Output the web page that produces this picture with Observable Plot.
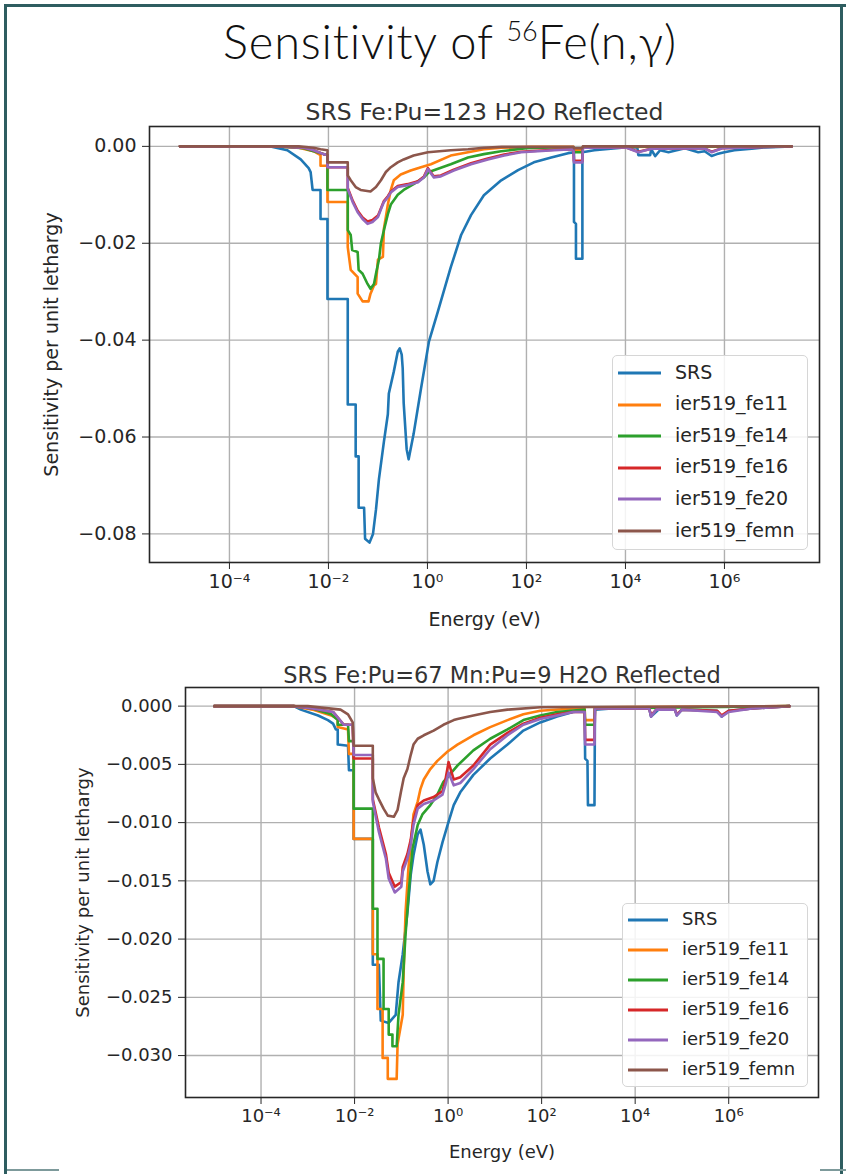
<!DOCTYPE html>
<html>
<head>
<meta charset="utf-8">
<script src="https://cdn.jsdelivr.net/npm/d3@7"></script>
<script src="https://cdn.jsdelivr.net/npm/@observablehq/plot@0.6"></script>
<style>
  html, body { margin: 0; padding: 0; background: #fff; }
  #page { position: relative; width: 846px; height: 1174px; overflow: hidden; background: #fff; }
  .bar { position: absolute; background: #2e5d60; }
  #title { position: absolute; left: 0; width: 900px; top: 13px; text-align: center; letter-spacing: 0.8px;
           font-family: "Lato", "Open Sans", sans-serif; font-weight: 300; font-size: 47px; color: #111; }
  #title sup { font-size: 27px; vertical-align: 18px; line-height: 0; letter-spacing: 0; }
  .plot { position: absolute; left: 0; }
  .legend { position: absolute; background: rgba(255,255,255,0.85); border: 1px solid #d6d6d6; border-radius: 5px;
            font-family: "DejaVu Sans", sans-serif; color: #262626; box-sizing: border-box; }
  .legend svg { position: absolute; }
  .legend span { position: absolute; line-height: 1; white-space: nowrap; }
</style>
</head>
<body>
<div id="page">
  <div class="bar" style="left:4px;top:4px;width:842px;height:3px"></div>
  <div class="bar" style="left:4px;top:4px;width:3px;height:1170px"></div>
  <div class="bar" style="left:840px;top:4px;width:3px;height:1170px"></div>
  <div class="bar" style="left:7px;top:1169px;width:52px;height:2px;background:#7d9a9b"></div>
  <div class="bar" style="left:820px;top:1169px;width:26px;height:2px;background:#7d9a9b"></div>
  <div id="title">Sensitivity of <sup>56</sup>Fe(n,γ)</div>
</div>
<script>
// ---------- data: log10(energy / eV) and sensitivity per unit lethargy ----------
const seriesNames = ["SRS", "ier519_fe11", "ier519_fe14", "ier519_fe16", "ier519_fe20", "ier519_femn"];
const seriesColors = ["#1f77b4", "#ff7f0e", "#2ca02c", "#d62728", "#9467bd", "#8c564b"];
const xTicks = [1e-4, 1e-2, 1, 1e2, 1e4, 1e6];
const xTickLabels = ["10⁻⁴", "10⁻²", "10⁰", "10²", "10⁴", "10⁶"];
const y1Ticks = [0, -0.02, -0.04, -0.06, -0.08];
const y2Ticks = [0, -0.005, -0.010, -0.015, -0.020, -0.025, -0.030];

// Chart 1: SRS Fe:Pu=123 H2O Reflected
const c1_SRS_lgE = [-5, -3.17, -2.83, -2.56, -2.40, -2.36, -2.32, -2.16, -2.16, -2.02, -2.02, -1.61, -1.61, -1.45, -1.45, -1.39, -1.39, -1.28, -1.26, -1.17, -1.10, -1.04, -0.98, -0.88, -0.80, -0.78, -0.68, -0.60, -0.56, -0.52, -0.50, -0.48, -0.42, -0.38, -0.28, -0.13, 0.03, 0.21, 0.47, 0.68, 0.88, 1.14, 1.49, 1.83, 2.15, 2.50, 2.84, 2.96, 2.96, 3.00, 3.00, 3.13, 3.13, 3.37, 3.98, 4.24, 4.26, 4.50, 4.52, 4.60, 4.70, 4.87, 5.20, 5.47, 5.60, 5.74, 5.85, 6.00, 6.20, 6.55, 6.81, 7.36];
const c1_SRS_val = [0, 0, -0.0008, -0.0027, -0.0045, -0.0053, -0.0090, -0.0090, -0.0150, -0.0150, -0.0315, -0.0315, -0.0533, -0.0533, -0.0640, -0.0640, -0.0746, -0.0746, -0.0810, -0.0818, -0.0800, -0.0750, -0.0687, -0.0610, -0.0553, -0.0510, -0.0465, -0.0424, -0.0417, -0.0430, -0.0458, -0.0530, -0.0625, -0.0646, -0.0594, -0.0500, -0.0403, -0.0341, -0.0250, -0.0183, -0.0142, -0.0101, -0.0070, -0.0049, -0.0033, -0.0023, -0.0014, -0.0012, -0.0156, -0.0160, -0.0232, -0.0232, -0.0012, -0.0008, -0.0002, -0.0002, -0.0018, -0.0018, -0.0006, -0.0020, -0.0008, -0.0012, -0.0004, -0.0012, -0.0010, -0.0020, -0.0016, -0.0012, -0.0008, -0.0005, -0.0002, 0];

const c1_fe11_lgE = [-5, -3.0, -2.6, -2.3, -2.16, -2.16, -2.02, -2.02, -1.61, -1.61, -1.55, -1.41, -1.41, -1.31, -1.19, -1.15, -1.08, -1.04, -1.00, -0.90, -0.88, -0.84, -0.80, -0.74, -0.68, -0.54, -0.34, -0.13, 0.07, 0.47, 0.82, 1.14, 1.49, 2.10, 2.95, 2.96, 3.13, 3.14, 7.36];
const c1_fe11_val = [0, 0, -0.0003, -0.0010, -0.0018, -0.0040, -0.0040, -0.0115, -0.0115, -0.0208, -0.0255, -0.0270, -0.0304, -0.0320, -0.0320, -0.0304, -0.0287, -0.0284, -0.0234, -0.0228, -0.0170, -0.0146, -0.0120, -0.0090, -0.0070, -0.0058, -0.0050, -0.0043, -0.0037, -0.0019, -0.0012, -0.0006, -0.0003, -0.0001, -0.0001, -0.0008, -0.0008, -0.0001, 0];

const c1_fe14_lgE = [-5, -3.0, -2.5, -2.3, -2.1, -2.02, -2.02, -1.61, -1.61, -1.55, -1.52, -1.41, -1.39, -1.31, -1.21, -1.15, -1.08, -1.04, -0.98, -0.94, -0.88, -0.80, -0.74, -0.60, -0.48, -0.28, -0.07, 0.03, 0.47, 0.82, 1.14, 1.49, 2.00, 2.50, 2.95, 2.96, 3.13, 3.14, 3.50, 7.36];
const c1_fe14_val = [0, 0, -0.0004, -0.0010, -0.0016, -0.0018, -0.0090, -0.0090, -0.0173, -0.0183, -0.0214, -0.0218, -0.0255, -0.0263, -0.0284, -0.0294, -0.0284, -0.0263, -0.0234, -0.0200, -0.0173, -0.0140, -0.0120, -0.0100, -0.0090, -0.0078, -0.0064, -0.0053, -0.0037, -0.0023, -0.0016, -0.0010, -0.0004, -0.0002, -0.0002, -0.0012, -0.0012, -0.0002, 0, 0];

const c1_fe16_lgE = [-5, -3.0, -2.5, -2.3, -2.1, -2.02, -2.02, -1.61, -1.61, -1.51, -1.41, -1.31, -1.21, -1.11, -1.00, -0.94, -0.88, -0.80, -0.74, -0.60, -0.40, -0.19, -0.07, 0.01, 0.13, 0.27, 0.53, 0.88, 1.22, 1.55, 1.89, 2.56, 2.95, 2.96, 3.13, 3.14, 4.00, 4.26, 4.52, 5.60, 5.74, 5.95, 6.50, 7.36];
const c1_fe16_val = [0, 0, -0.0003, -0.0008, -0.0016, -0.0018, -0.0043, -0.0043, -0.0086, -0.0112, -0.0133, -0.0147, -0.0155, -0.0152, -0.0143, -0.0128, -0.0113, -0.0103, -0.0093, -0.0082, -0.0078, -0.0072, -0.0062, -0.0045, -0.0062, -0.0060, -0.0048, -0.0035, -0.0025, -0.0017, -0.0011, -0.0007, -0.0006, -0.0030, -0.0030, -0.0003, -0.0002, -0.0011, -0.0005, -0.0004, -0.0011, -0.0004, -0.0002, 0];

const c1_fe20_lgE = [-5, -3.0, -2.5, -2.3, -2.1, -2.02, -2.02, -1.61, -1.61, -1.51, -1.41, -1.31, -1.21, -1.11, -1.00, -0.94, -0.88, -0.80, -0.74, -0.60, -0.40, -0.19, -0.07, 0.01, 0.13, 0.27, 0.53, 0.88, 1.22, 1.55, 1.89, 2.56, 2.95, 2.96, 3.13, 3.14, 4.00, 4.26, 4.52, 5.60, 5.74, 5.95, 6.50, 7.36];
const c1_fe20_val = [0, 0, -0.0003, -0.0008, -0.0016, -0.0018, -0.0043, -0.0043, -0.0088, -0.0115, -0.0136, -0.0150, -0.0160, -0.0156, -0.0146, -0.0130, -0.0115, -0.0105, -0.0095, -0.0084, -0.0080, -0.0074, -0.0064, -0.0047, -0.0064, -0.0062, -0.0050, -0.0037, -0.0027, -0.0019, -0.0012, -0.0008, -0.0006, -0.0033, -0.0033, -0.0003, -0.0002, -0.0012, -0.0005, -0.0004, -0.0012, -0.0004, -0.0002, 0];

const c1_femn_lgE = [-5, -2.6, -2.3, -2.16, -2.02, -2.02, -1.61, -1.61, -1.55, -1.45, -1.35, -1.15, -1.04, -0.94, -0.84, -0.74, -0.60, -0.48, -0.28, 0.01, 0.47, 0.82, 1.14, 1.50, 2.95, 2.96, 3.13, 3.14, 7.36];
const c1_femn_val = [0, 0, -0.0003, -0.0006, -0.0008, -0.0033, -0.0033, -0.0060, -0.0070, -0.0084, -0.0090, -0.0093, -0.0084, -0.0070, -0.0053, -0.0043, -0.0033, -0.0027, -0.0019, -0.0012, -0.0008, -0.0006, -0.0003, -0.0001, -0.0001, -0.0004, -0.0004, 0, 0];

// Chart 2: SRS Fe:Pu=67 Mn:Pu=9 H2O Reflected
const c2_SRS_lgE = [-5, -3.3, -3.15, -2.78, -2.57, -2.46, -2.40, -2.36, -2.36, -2.14, -2.12, -2.02, -2.02, -1.61, -1.61, -1.48, -1.44, -1.27, -1.12, -1.06, -0.97, -0.87, -0.80, -0.74, -0.65, -0.59, -0.52, -0.44, -0.38, -0.31, -0.23, -0.12, -0.01, 0.12, 0.26, 0.54, 0.90, 1.27, 1.61, 1.97, 2.33, 2.67, 2.92, 2.93, 2.98, 2.99, 3.13, 3.14, 3.50, 4.30, 4.34, 4.50, 4.85, 4.89, 5.00, 5.75, 5.85, 6.00, 6.50, 7.30];
const c2_SRS_val = [0, 0, -0.0003, -0.0008, -0.0012, -0.0015, -0.0020, -0.0020, -0.0033, -0.0034, -0.0055, -0.0055, -0.0114, -0.0114, -0.0222, -0.0222, -0.0270, -0.0272, -0.0265, -0.0237, -0.0213, -0.0177, -0.0145, -0.0128, -0.0110, -0.0106, -0.0119, -0.0142, -0.0153, -0.0150, -0.0134, -0.0117, -0.0102, -0.0085, -0.0074, -0.0059, -0.0045, -0.0033, -0.0021, -0.0014, -0.0009, -0.0005, -0.0004, -0.0045, -0.0047, -0.0085, -0.0085, -0.0003, -0.0002, -0.0002, -0.0009, -0.0003, -0.0003, -0.0008, -0.0003, -0.0004, -0.0009, -0.0004, -0.0002, 0];

const c2_fe11_lgE = [-5, -3.3, -2.9, -2.50, -2.36, -2.36, -2.14, -2.12, -2.02, -2.02, -1.61, -1.61, -1.51, -1.51, -1.40, -1.40, -1.29, -1.29, -1.10, -1.08, -0.97, -0.95, -0.91, -0.85, -0.74, -0.65, -0.59, -0.52, -0.38, -0.23, -0.01, 0.20, 0.54, 0.90, 1.27, 1.61, 1.97, 2.67, 2.92, 2.93, 3.13, 3.14, 7.30];
const c2_fe11_val = [0, 0, -0.0003, -0.0008, -0.0011, -0.0018, -0.0020, -0.0041, -0.0041, -0.0114, -0.0114, -0.0213, -0.0213, -0.0260, -0.0260, -0.0302, -0.0302, -0.0320, -0.0320, -0.0290, -0.0265, -0.0228, -0.0177, -0.0140, -0.0093, -0.0082, -0.0071, -0.0063, -0.0054, -0.0047, -0.0039, -0.0033, -0.0025, -0.0018, -0.0012, -0.0007, -0.0004, -0.0002, -0.0002, -0.0012, -0.0012, -0.0001, 0];

const c2_fe14_lgE = [-5, -3.3, -2.9, -2.50, -2.36, -2.36, -2.14, -2.12, -2.02, -2.02, -1.61, -1.61, -1.51, -1.51, -1.38, -1.38, -1.27, -1.27, -1.19, -1.19, -1.10, -1.06, -0.97, -0.91, -0.84, -0.76, -0.65, -0.55, -0.38, -0.23, -0.10, 0.20, 0.54, 0.90, 1.27, 1.61, 1.97, 2.33, 2.92, 2.93, 3.13, 3.14, 7.30];
const c2_fe14_val = [0, 0, -0.0002, -0.0007, -0.0012, -0.0016, -0.0016, -0.0030, -0.0030, -0.0088, -0.0088, -0.0174, -0.0174, -0.0217, -0.0217, -0.0260, -0.0260, -0.0282, -0.0282, -0.0292, -0.0292, -0.0265, -0.0237, -0.0196, -0.0159, -0.0122, -0.0102, -0.0093, -0.0085, -0.0076, -0.0065, -0.0051, -0.0038, -0.0028, -0.0020, -0.0012, -0.0008, -0.0005, -0.0003, -0.0016, -0.0016, -0.0002, 0];

const c2_fe16_lgE = [-5, -3.3, -2.9, -2.46, -2.23, -2.04, -2.02, -1.61, -1.61, -1.48, -1.33, -1.27, -1.14, -1.00, -0.97, -0.87, -0.80, -0.74, -0.65, -0.52, -0.31, -0.12, -0.06, 0.01, 0.12, 0.26, 0.54, 0.90, 1.27, 1.61, 1.97, 2.33, 2.67, 2.92, 2.93, 3.13, 3.14, 4.30, 4.34, 4.45, 4.85, 4.89, 5.00, 5.75, 5.85, 6.00, 6.50, 7.30];
const c2_fe16_val = [0, 0, -0.0002, -0.0005, -0.0016, -0.0016, -0.0045, -0.0045, -0.0080, -0.0104, -0.0127, -0.0143, -0.0155, -0.0151, -0.0138, -0.0127, -0.0115, -0.0098, -0.0085, -0.0081, -0.0078, -0.0073, -0.0064, -0.0048, -0.0063, -0.0061, -0.0051, -0.0033, -0.0023, -0.0015, -0.0010, -0.0007, -0.0005, -0.0005, -0.0029, -0.0029, -0.0002, -0.0002, -0.0008, -0.0003, -0.0003, -0.0007, -0.0003, -0.0004, -0.0008, -0.0004, -0.0002, 0];

const c2_fe20_lgE = [-5, -3.3, -2.9, -2.46, -2.23, -2.04, -2.02, -1.61, -1.61, -1.48, -1.33, -1.27, -1.14, -1.00, -0.97, -0.87, -0.80, -0.74, -0.65, -0.52, -0.31, -0.12, -0.06, 0.01, 0.12, 0.26, 0.54, 0.90, 1.27, 1.61, 1.97, 2.33, 2.67, 2.92, 2.93, 3.13, 3.14, 4.30, 4.34, 4.45, 4.85, 4.89, 5.00, 5.75, 5.85, 6.00, 6.50, 7.30];
const c2_fe20_val = [0, 0, -0.0002, -0.0005, -0.0016, -0.0016, -0.0042, -0.0042, -0.0082, -0.0108, -0.0131, -0.0148, -0.0160, -0.0155, -0.0142, -0.0131, -0.0119, -0.0102, -0.0088, -0.0084, -0.0081, -0.0076, -0.0068, -0.0057, -0.0068, -0.0066, -0.0054, -0.0037, -0.0025, -0.0016, -0.0011, -0.0008, -0.0005, -0.0005, -0.0033, -0.0033, -0.0002, -0.0002, -0.0009, -0.0003, -0.0003, -0.0008, -0.0003, -0.0005, -0.0009, -0.0005, -0.0002, 0];

const c2_femn_lgE = [-5, -3.0, -2.30, -2.14, -2.04, -2.02, -1.61, -1.61, -1.55, -1.48, -1.38, -1.29, -1.16, -1.08, -1.01, -0.95, -0.87, -0.80, -0.74, -0.65, -0.52, -0.31, -0.10, 0.12, 0.20, 0.54, 0.90, 1.27, 1.97, 7.30];
const c2_femn_val = [0, 0, -0.0003, -0.0007, -0.0014, -0.0034, -0.0034, -0.0062, -0.0074, -0.0080, -0.0088, -0.0094, -0.0095, -0.0089, -0.0074, -0.0062, -0.0054, -0.0042, -0.0033, -0.0028, -0.0025, -0.0021, -0.0016, -0.0012, -0.0011, -0.0008, -0.0005, -0.0003, -0.0001, 0];

// ---------- build tables ----------
function table(pairs) {
  const rows = [];
  pairs.forEach(([lg, val], k) => lg.forEach((l, i) => rows.push({E: Math.pow(10, l), v: val[i], s: seriesNames[k]})));
  return rows;
}
const data1 = table([[c1_SRS_lgE, c1_SRS_val], [c1_fe11_lgE, c1_fe11_val], [c1_fe14_lgE, c1_fe14_val], [c1_fe16_lgE, c1_fe16_val], [c1_fe20_lgE, c1_fe20_val], [c1_femn_lgE, c1_femn_val]]);
const data2 = table([[c2_SRS_lgE, c2_SRS_val], [c2_fe11_lgE, c2_fe11_val], [c2_fe14_lgE, c2_fe14_val], [c2_fe16_lgE, c2_fe16_val], [c2_fe20_lgE, c2_fe20_val], [c2_femn_lgE, c2_femn_val]]);

const xFmt = d => xTickLabels[xTicks.indexOf(d)];

function makeChart(o) {
  return Plot.plot({
    width: 846, height: o.height,
    marginLeft: o.ml, marginRight: o.mr, marginTop: o.mt, marginBottom: o.mb,
    style: {fontFamily: "DejaVu Sans, sans-serif", fontSize: o.fs + "px", color: "#262626", background: "transparent"},
    x: {type: "log", domain: [Math.pow(10, -5.615), Math.pow(10, 7.92)]},
    y: {domain: o.ydom},
    color: {domain: seriesNames, range: seriesColors},
    marks: [
      Plot.gridX(xTicks, {stroke: "#b0b0b0", strokeOpacity: 1, strokeWidth: 1.4}),
      Plot.gridY(o.yTicks, {stroke: "#b0b0b0", strokeOpacity: 1, strokeWidth: 1.4}),
      Plot.axisX(xTicks, {tickFormat: xFmt, tickSize: 7, tickPadding: 5, label: "Energy (eV)", labelAnchor: "center", labelOffset: o.xlo, labelArrow: "none", stroke: "#262626"}),
      Plot.axisY(o.yTicks, {tickFormat: d3.format(o.yfmt), tickSize: 7, tickPadding: 6, label: "Sensitivity per unit lethargy", labelAnchor: "center", labelOffset: o.ylo, labelArrow: "none", stroke: "#262626"}),
      Plot.line(o.data, {x: "E", y: "v", z: "s", stroke: "s", curve: "linear", strokeWidth: 2.6}),
      Plot.frame({stroke: "#262626", strokeWidth: 1.6}),
      Plot.text([o.title], {text: d => d, frameAnchor: "top", dy: o.tdy, fontSize: o.tfs, fill: "#333"})
    ]
  });
}

function makeLegend(o) {
  const lg = document.createElement("div");
  lg.className = "legend";
  Object.assign(lg.style, {left: o.left + "px", top: o.top + "px", width: o.w + "px", height: o.h + "px", fontSize: o.fs + "px"});
  seriesNames.forEach((name, i) => {
    const cy = o.first + i * o.step;
    const sw = document.createElementNS("http://www.w3.org/2000/svg", "svg");
    sw.setAttribute("width", o.swW + 4); sw.setAttribute("height", 8);
    sw.style.left = (o.swX - 2) + "px"; sw.style.top = (cy - 4) + "px";
    sw.innerHTML = `<line x1="2" x2="${o.swW + 2}" y1="4" y2="4" stroke="${seriesColors[i]}" stroke-width="2.8"/>`;
    lg.appendChild(sw);
    const t = document.createElement("span");
    t.textContent = name;
    t.style.left = o.txX + "px"; t.style.top = (cy - o.fs * 0.55) + "px";
    lg.appendChild(t);
  });
  return lg;
}

const page = document.getElementById("page");

const p1 = makeChart({height: 560, ml: 149, mr: 27, mt: 46, mb: 78, fs: 19, ydom: [-0.0859, 0.0041], yTicks: y1Ticks, yfmt: ".2f",
  xlo: 63, ylo: 105, data: data1, title: "SRS Fe:Pu=123 H2O Reflected", tdy: -23, tfs: 23.5});
p1.classList.add("plot"); p1.style.top = "80px";
page.appendChild(p1);

const p2 = makeChart({height: 534, ml: 185, mr: 28, mt: 47, mb: 77, fs: 18, ydom: [-0.0336, 0.0016], yTicks: y2Ticks, yfmt: ".3f",
  xlo: 60, ylo: 109, data: data2, title: "SRS Fe:Pu=67 Mn:Pu=9 H2O Reflected", tdy: -20, tfs: 22.5});
p2.classList.add("plot"); p2.style.top = "640px";
page.appendChild(p2);

page.appendChild(makeLegend({left: 612, top: 355, w: 196, h: 195, fs: 19, first: 17, step: 31.6, swX: 5, swW: 43, txX: 62}));
page.appendChild(makeLegend({left: 622, top: 903, w: 186, h: 184, fs: 18, first: 16, step: 30, swX: 5, swW: 40, txX: 59}));
</script>
</body>
</html>
